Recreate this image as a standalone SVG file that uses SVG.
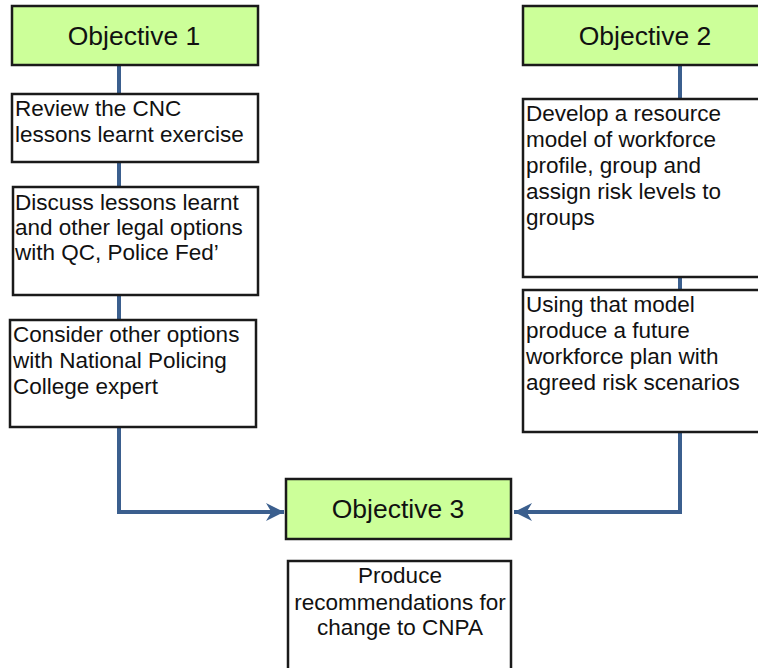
<svg xmlns="http://www.w3.org/2000/svg" width="758" height="668" viewBox="0 0 758 668">
<defs>
<style>
.obj{fill:#ccff99;stroke:#1a1a1a;stroke-width:2.5}
.box{fill:#ffffff;stroke:#1a1a1a;stroke-width:2.5}
.ot{font-family:"Liberation Sans",Arial,sans-serif;font-size:26.5px;fill:#111;text-anchor:middle}
.bt{font-family:"Liberation Sans",Arial,sans-serif;font-size:22.5px;fill:#111}
.c{fill:none;stroke:#3b5f8e;stroke-width:4}
</style>
<marker id="ah" viewBox="0 0 10 10" refX="10" refY="5" markerWidth="4.5" markerHeight="4.5" orient="auto" markerUnits="strokeWidth">
<path d="M0,0 L10,5 L0,10 L3,5 z" fill="#3b5f8e"/>
</marker>
</defs>
<rect width="758" height="668" fill="#ffffff"/>
<g id="connectors">
<line class="c" x1="119" y1="65" x2="119" y2="94"/>
<line class="c" x1="119" y1="162" x2="119" y2="187"/>
<line class="c" x1="119" y1="295" x2="119" y2="320"/>
<path class="c" d="M119,427 V512 H284" marker-end="url(#ah)"/>
<line class="c" x1="680" y1="65" x2="680" y2="99"/>
<line class="c" x1="680" y1="277" x2="680" y2="290"/>
<path class="c" d="M680,432 V512 H514" marker-end="url(#ah)"/>
</g>
<g id="objective1">
<rect class="obj" x="12" y="6" width="246" height="59"/>
<text class="ot" x="134" y="45">Objective 1</text>
</g>
<g id="objective2">
<rect class="obj" x="523" y="6" width="240" height="59"/>
<text class="ot" x="645" y="45">Objective 2</text>
</g>
<g id="objective3">
<rect class="obj" x="286" y="479" width="225" height="60"/>
<text class="ot" x="398" y="518">Objective 3</text>
</g>
<g id="review">
<rect class="box" x="12" y="94" width="246" height="68"/>
<text class="bt" x="15" y="116">Review the CNC</text>
<text class="bt" x="15" y="142">lessons learnt exercise</text>
</g>
<g id="discuss">
<rect class="box" x="13" y="187" width="245" height="108"/>
<text class="bt" x="15" y="210">Discuss lessons learnt</text>
<text class="bt" x="15" y="235">and other legal options</text>
<text class="bt" x="15" y="260">with QC, Police Fed’</text>
</g>
<g id="consider">
<rect class="box" x="10" y="320" width="246" height="107"/>
<text class="bt" x="13" y="342">Consider other options</text>
<text class="bt" x="13" y="368">with National Policing</text>
<text class="bt" x="13" y="394">College expert</text>
</g>
<g id="develop">
<rect class="box" x="523" y="99" width="240" height="178"/>
<text class="bt" x="526" y="121">Develop a resource</text>
<text class="bt" x="526" y="147">model of workforce</text>
<text class="bt" x="526" y="173">profile, group and</text>
<text class="bt" x="526" y="199">assign risk levels to</text>
<text class="bt" x="526" y="225">groups</text>
</g>
<g id="using">
<rect class="box" x="523" y="290" width="240" height="142"/>
<text class="bt" x="526" y="312">Using that model</text>
<text class="bt" x="526" y="338">produce a future</text>
<text class="bt" x="526" y="364">workforce plan with</text>
<text class="bt" x="526" y="390">agreed risk scenarios</text>
</g>
<g id="produce">
<rect class="box" x="288" y="561" width="223" height="115"/>
<text class="bt" x="400" y="583" text-anchor="middle">Produce</text>
<text class="bt" x="400" y="610" text-anchor="middle">recommendations for</text>
<text class="bt" x="400" y="635" text-anchor="middle">change to CNPA</text>
</g>
</svg>
